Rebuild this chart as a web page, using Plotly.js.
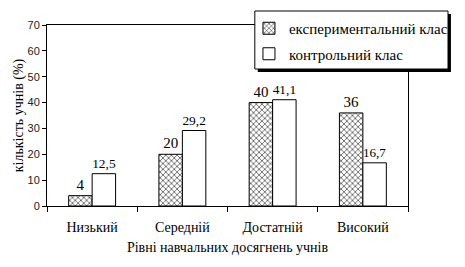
<!DOCTYPE html>
<html>
<head>
<meta charset="utf-8">
<script src="https://cdn.plot.ly/plotly-3.0.1.min.js"></script>
<style>html,body{margin:0;padding:0;background:#fff;}#chart{width:465px;height:267px;}</style>
</head>
<body>
<div id="chart"></div>
<script>
var categories = ['Низький', 'Середній', 'Достатній', 'Високий'];
var experimental = [4, 20, 40, 36];
var control = [12.5, 29.2, 41.1, 16.7];
var seriesNames = ['експериментальний клас', 'контрольний клас'];

function fmt(v) { return String(v).replace('.', ','); }

var serif = 'Liberation Serif, Times New Roman, serif';

var traces = [
  {
    type: 'bar', name: seriesNames[0], x: categories, y: experimental,
    text: experimental.map(fmt), textposition: 'outside', cliponaxis: false,
    textfont: {family: serif, size: 15, color: '#000'},
    marker: {color: '#fff', line: {color: '#000', width: 1},
      pattern: {shape: 'x', fgcolor: '#000', bgcolor: '#fff', size: 4, solidity: 0.25}},
    legendgroup: 'a', hoverinfo: 'skip'
  },
  {
    type: 'bar', name: seriesNames[1], x: categories, y: control,
    text: control.map(fmt), textposition: 'outside', cliponaxis: false,
    textfont: {family: serif, size: 15, color: '#000'},
    marker: {color: '#fff', line: {color: '#000', width: 1}},
    legendgroup: 'b', hoverinfo: 'skip'
  }
];

var L = 47, W = 370, B = 206, H = 181;
function px(x) { return (x - L) / W; }
function py(y) { return (B - y) / H; }

var layout = {
  width: 465, height: 267,
  margin: {l: 47, r: 48, t: 25, b: 61},
  paper_bgcolor: '#fff', plot_bgcolor: '#fff',
  barmode: 'group', bargap: 0.48, bargroupgap: 0,
  font: {family: serif, color: '#000'},
  xaxis: {
    type: 'category', showline: true, linecolor: '#000', linewidth: 1, mirror: true,
    ticks: 'outside', tickson: 'boundaries', ticklen: 5, tickcolor: '#000',
    ticklabelstandoff: 8,
    tickfont: {family: serif, size: 14, color: '#000'},
    showgrid: false, zeroline: false,
    title: {text: 'Рівні навчальних досягнень учнів', font: {family: serif, size: 14, color: '#000'}, standoff: 8}
  },
  yaxis: {
    range: [0, 70], dtick: 10, showline: true, linecolor: '#000', linewidth: 1, mirror: true,
    ticks: 'outside', ticklen: 4, tickcolor: '#000',
    tickfont: {family: 'Liberation Sans, Arial, sans-serif', size: 11, color: '#222'},
    showgrid: false, zeroline: false,
    title: {text: 'кількість учнів (%)', font: {family: serif, size: 14, color: '#000'}, standoff: 0}
  },
  legend: {
    x: px(254), y: py(12), xanchor: 'left', yanchor: 'top',
    bgcolor: 'rgba(0,0,0,0)', borderwidth: 0,
    font: {family: serif, size: 15, color: '#000'},
    traceorder: 'grouped', tracegroupgap: 3, itemwidth: 30
  },
  shapes: [
    {type: 'rect', xref: 'paper', yref: 'paper', layer: 'above',
     x0: px(263), x1: px(461), y0: py(72), y1: py(14),
     fillcolor: '#000', line: {width: 0}},
    {type: 'rect', xref: 'paper', yref: 'paper', layer: 'above',
     x0: px(260), x1: px(458), y0: py(69), y1: py(11),
     fillcolor: '#fff', line: {color: '#000', width: 1}}
  ],
  showlegend: true
};

Plotly.newPlot('chart', traces, layout, {displayModeBar: false, staticPlot: true});
</script>
</body>
</html>
